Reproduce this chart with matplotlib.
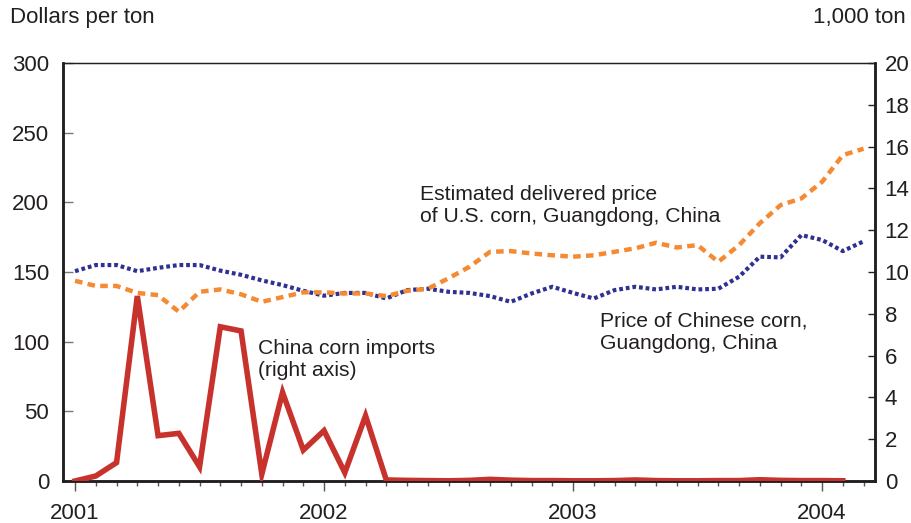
import matplotlib.pyplot as plt
from matplotlib.ticker import MultipleLocator, FixedLocator

plt.rcParams['font.family'] = ['Liberation Sans', 'DejaVu Sans']

# months since Jan 2001
months_imports = list(range(38))
months_prices = list(range(39))

china_imports = [0.0, 0.24, 0.88, 8.85, 2.17, 2.28, 0.68, 7.38, 7.18, 0.33,
                 4.24, 1.48, 2.41, 0.4, 3.12, 0.05, 0.03, 0.02, 0.01, 0.03,
                 0.08, 0.04, 0.02, 0.02, 0.01, 0.01, 0.02, 0.05, 0.02, 0.01,
                 0.01, 0.02, 0.02, 0.06, 0.03, 0.02, 0.02, 0.01]

us_corn_price = [143.7, 140, 140, 135, 133.4, 121.5, 135.8, 137.5, 134, 128.6,
                 132, 135.4, 135.4, 134.6, 134.6, 132.7, 136.5, 138, 145.5, 153.7,
                 164.5, 165, 163.3, 162, 161, 162, 164.5, 167, 171, 167.6,
                 169.3, 157.3, 169.3, 185, 198, 202.8, 214.7, 233.9, 238.5]

china_corn_price = [150.6, 155, 155, 150.6, 153, 155, 155, 151, 148, 144,
                    140.6, 136.5, 133, 135, 135, 131, 137, 138, 135.8, 135,
                    132.7, 128.6, 134.6, 139.4, 135, 131, 137, 139.4, 137.5, 139.4,
                    137.5, 138, 146.6, 161, 160.5, 176.5, 173, 165, 172]

year_ticks = [0, 12, 24, 36]
year_labels = ['2001', '2002', '2003', '2004']

red = '#C8322D'
orange = '#F58A33'
blue = '#2E3192'
grey = '#231F20'
fs = 16
fs_note = 15.2

fig = plt.figure(figsize=(9.12, 5.23), dpi=100)
ax = fig.add_axes([0.0691, 0.0803, 0.8903, 0.7992])
ax2 = ax.twinx()

ax.plot(months_prices, china_corn_price, color=blue, linewidth=3,
        linestyle=(0, (0.9, 0.7)), zorder=2)
ax.plot(months_prices, us_corn_price, color=orange, linewidth=3.2,
        linestyle=(0, (1.7, 1.2)), zorder=3)
ax2.plot(months_imports, china_imports, color=red, linewidth=4,
         solid_joinstyle='miter', zorder=4)

ax.set_xlim(-0.58, 38.55)
ax.set_ylim(0, 300)
ax2.set_ylim(0, 20)

ax.yaxis.set_major_locator(MultipleLocator(50))
ax2.yaxis.set_major_locator(MultipleLocator(2))
ax.xaxis.set_major_locator(FixedLocator(year_ticks))
ax.set_xticklabels(year_labels)
ax.xaxis.set_minor_locator(FixedLocator(range(39)))

ax.tick_params(axis='x', which='major', direction='out', length=7.5, width=1,
               color='#555555', labelsize=fs, pad=8, labelcolor=grey)
ax.tick_params(axis='x', which='minor', direction='out', length=3.6, width=1,
               color='#555555')
ax.tick_params(axis='y', direction='in', length=7, width=1, color='#777777',
               labelsize=fs, pad=10, labelcolor=grey)
ax2.tick_params(axis='y', direction='in', length=5, width=1, color=grey,
                labelsize=fs, pad=7, labelcolor=grey)

for a in (ax, ax2):
    a.spines['left'].set_linewidth(1.8)
    a.spines['bottom'].set_linewidth(1.8)
    a.spines['right'].set_linewidth(1.8)
    a.spines['top'].set_linewidth(0.9)
    for s in a.spines.values():
        s.set_color(grey)

ax.text(16.6, 197.5, 'Estimated delivered price\nof U.S. corn, Guangdong, China',
        fontsize=fs_note, color=grey, va='center', ha='left', linespacing=1.22)
ax.text(25.3, 107, 'Price of Chinese corn,\nGuangdong, China',
        fontsize=fs_note, color=grey, va='center', ha='left', linespacing=1.22)
ax.text(8.8, 87, 'China corn imports\n(right axis)',
        fontsize=fs_note, color=grey, va='center', ha='left', linespacing=1.22)

fig.text(0.011, 0.966, 'Dollars per ton', fontsize=fs, color=grey,
         ha='left', va='center')
fig.text(0.993, 0.966, '1,000 ton', fontsize=fs, color=grey,
         ha='right', va='center')

fig.savefig('out.png', dpi=100)
